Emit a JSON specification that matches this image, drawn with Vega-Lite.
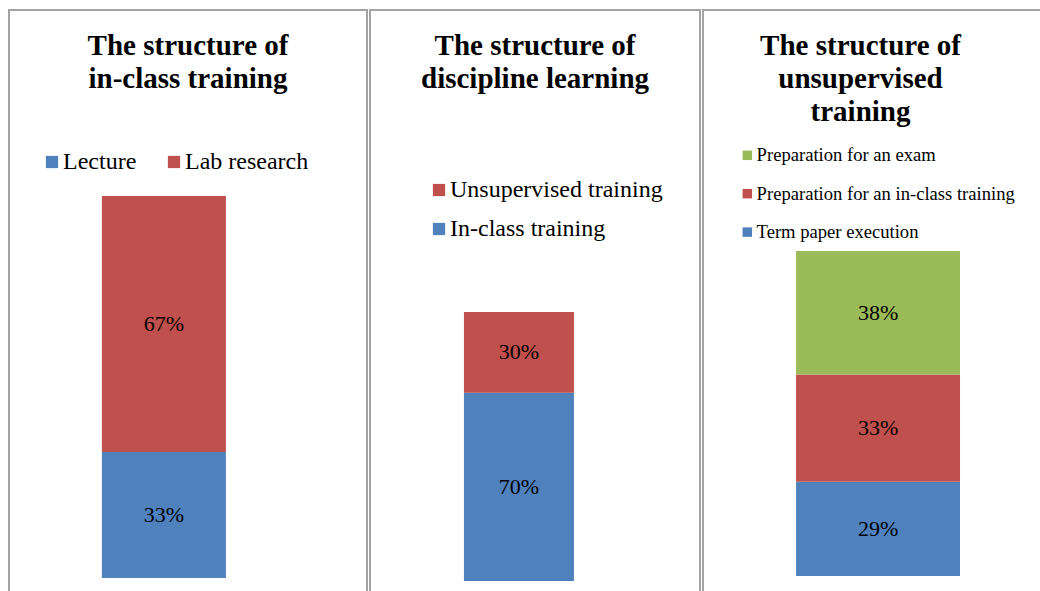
{
  "$schema": "https://vega.github.io/schema/vega-lite/v6.json",
  "padding": {"left": 8, "top": 9, "right": 0, "bottom": 0},
  "background": "white",
  "spacing": 1,
  "config": {
    "view": {"stroke": "#a3a3a3", "strokeWidth": 2},
    "font": "Liberation Serif",
    "title": {"font": "Liberation Serif", "fontSize": 29, "fontWeight": "bold", "color": "black", "lineHeight": 33, "baseline": "top", "anchor": "middle", "frame": "group"},
    "legend": {"labelFont": "Liberation Serif", "labelColor": "black", "labelLimit": 0, "symbolType": "square", "symbolStrokeWidth": 0, "symbolOpacity": 1, "padding": 0, "orient": "none"}
  },
  "datasets": {
    "rows": [
      {"panel": "A", "bar": "total", "cat": "Lecture", "v": 33, "seq": 1, "label": "33%"},
      {"panel": "A", "bar": "total", "cat": "Lab research", "v": 67, "seq": 2, "label": "67%"},
      {"panel": "B", "bar": "total", "cat": "In-class training", "v": 70, "seq": 1, "label": "70%"},
      {"panel": "B", "bar": "total", "cat": "Unsupervised training", "v": 30, "seq": 2, "label": "30%"},
      {"panel": "C", "bar": "total", "cat": "Term paper execution", "v": 29, "seq": 1, "label": "29%"},
      {"panel": "C", "bar": "total", "cat": "Preparation for an in-class training", "v": 33, "seq": 2, "label": "33%"},
      {"panel": "C", "bar": "total", "cat": "Preparation for an exam", "v": 38, "seq": 3, "label": "38%"}
    ]
  },
  "data": {"name": "rows"},
  "resolve": {"scale": {"x": "independent", "y": "independent", "color": "independent"}, "legend": {"color": "independent"}},
  "hconcat": [
    {
      "width": 358, "height": 600,
      "title": {"text": ["The structure of", "in-class training"], "offset": -84},
      "transform": [{"filter": "datum.panel === 'A'"}],
      "encoding": {
        "x": {"field": "bar", "type": "nominal", "axis": null, "scale": {"paddingInner": 0, "paddingOuter": 0.9435, "align": 0.397}},
        "order": {"field": "seq", "type": "quantitative"}
      },
      "layer": [
        {
          "mark": {"type": "bar"},
          "encoding": {
            "y": {"field": "v", "type": "quantitative", "axis": null, "stack": "zero", "scale": {"domain": [-8.38, 148.69], "zero": false, "nice": false}},
            "color": {"field": "cat", "type": "nominal", "scale": {"domain": ["Lecture", "Lab research"], "range": ["#4F81BD", "#C0504D"]},
              "legend": {"title": null, "direction": "horizontal", "legendX": 31, "legendY": 140, "labelFontSize": 24, "symbolSize": 150, "labelOffset": -1, "columnPadding": 25}}
          }
        },
        {
          "mark": {"type": "text", "font": "Liberation Serif", "fontSize": 22, "color": "black", "baseline": "middle"},
          "encoding": {
            "y": {"field": "v", "type": "quantitative", "axis": null, "stack": "zero", "bandPosition": 0.5},
            "detail": {"field": "cat"},
            "text": {"field": "label"}
          }
        }
      ]
    },
    {
      "width": 330, "height": 600,
      "title": {"text": ["The structure of", "discipline learning"], "offset": -84},
      "transform": [{"filter": "datum.panel === 'B'"}],
      "encoding": {
        "x": {"field": "bar", "type": "nominal", "axis": null, "scale": {"paddingInner": 0, "paddingOuter": 1.0, "align": 0.427}},
        "order": {"field": "seq", "type": "quantitative"}
      },
      "layer": [
        {
          "mark": {"type": "bar"},
          "encoding": {
            "y": {"field": "v", "type": "quantitative", "axis": null, "stack": "zero", "scale": {"domain": [-10.78, 212.27], "zero": false, "nice": false}},
            "color": {"field": "cat", "type": "nominal", "scale": {"domain": ["Unsupervised training", "In-class training"], "range": ["#C0504D", "#4F81BD"]},
              "legend": {"title": null, "direction": "vertical", "legendX": 57, "legendY": 168, "labelFontSize": 24, "symbolSize": 150, "labelOffset": -1, "rowPadding": 15}}
          }
        },
        {
          "mark": {"type": "text", "font": "Liberation Serif", "fontSize": 22, "color": "black", "baseline": "middle"},
          "encoding": {
            "y": {"field": "v", "type": "quantitative", "axis": null, "stack": "zero", "bandPosition": 0.5},
            "detail": {"field": "cat"},
            "text": {"field": "label"}
          }
        }
      ]
    },
    {
      "width": 345, "height": 600,
      "title": {"text": ["The structure of", "unsupervised", "training"], "dx": -15, "offset": -117},
      "transform": [{"filter": "datum.panel === 'C'"}],
      "encoding": {
        "x": {"field": "bar", "type": "nominal", "axis": null, "scale": {"paddingInner": 0, "paddingOuter": 0.552, "align": 0.514}},
        "order": {"field": "seq", "type": "quantitative"}
      },
      "layer": [
        {
          "mark": {"type": "bar"},
          "encoding": {
            "y": {"field": "v", "type": "quantitative", "axis": null, "stack": "zero", "scale": {"domain": [-10.46, 174.15], "zero": false, "nice": false}},
            "color": {"field": "cat", "type": "nominal", "scale": {"domain": ["Preparation for an exam", "Preparation for an in-class training", "Term paper execution"], "range": ["#9BBB59", "#C0504D", "#4F81BD"]},
              "legend": {"title": null, "direction": "vertical", "legendX": 35, "legendY": 136, "labelFontSize": 18.6, "symbolSize": 90, "labelOffset": 0, "rowPadding": 19.4}}
          }
        },
        {
          "mark": {"type": "text", "font": "Liberation Serif", "fontSize": 22, "color": "black", "baseline": "middle"},
          "encoding": {
            "y": {"field": "v", "type": "quantitative", "axis": null, "stack": "zero", "bandPosition": 0.5},
            "detail": {"field": "cat"},
            "text": {"field": "label"}
          }
        }
      ]
    }
  ]
}
